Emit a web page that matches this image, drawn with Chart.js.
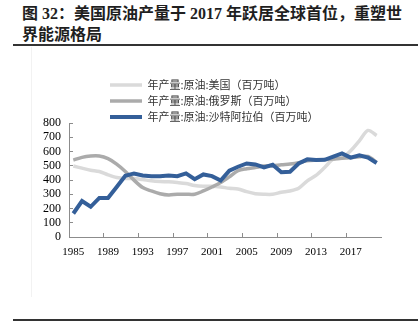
<!DOCTYPE html>
<html>
<head>
<meta charset="utf-8">
<script src="https://cdn.jsdelivr.net/npm/chart.js@4/dist/chart.umd.min.js"></script>
<style>
  body { margin: 0; width: 418px; height: 329px; background: #fff; position: relative; overflow: hidden; }
  .title { position: absolute; left: 22px; top: 3px; width: 392px; font-family: "Liberation Serif", "Noto Sans CJK SC", serif; font-weight: bold; font-size: 16px; line-height: 21px; color: #1f1f1f; }
  .rule { position: absolute; left: 13px; width: 405px; height: 2px; background: #333; }
  .frame { position: absolute; left: 31px; top: 47px; width: 1px; height: 250px; background: #f2f2f2; }
  #wrap { position: absolute; left: 0; top: 50px; width: 418px; height: 217px; }
</style>
</head>
<body>
<div class="title">图 32：美国原油产量于 2017 年跃居全球首位，重塑世界能源格局</div>
<div class="rule" style="top:44px"></div>
<div class="frame"></div>
<div id="wrap"><canvas id="chart" width="418" height="217"></canvas></div>
<div class="rule" style="top:319px"></div>
<script>
// years on the category axis
const years = ["1985", "1986", "1987", "1988", "1989", "1990", "1991", "1992", "1993", "1994",
  "1995", "1996", "1997", "1998", "1999", "2000", "2001", "2002", "2003", "2004",
  "2005", "2006", "2007", "2008", "2009", "2010", "2011", "2012", "2013", "2014",
  "2015", "2016", "2017", "2018", "2019", "2020"];

// crude oil output, million tonnes
const usOutput = [498, 483, 469, 460, 436, 417, 410, 410, 403, 394, 389, 387, 382, 375, 361, 356, 356, 351,
  342, 337, 318, 304, 300, 300, 314, 323, 342, 394, 432, 488, 547, 555, 605, 675, 748, 712];
const russiaOutput = [540, 559, 568, 568, 550, 512, 460, 399, 347, 323, 304, 295, 300, 300, 300, 323, 351, 382,
  422, 465, 479, 488, 498, 500, 507, 512, 521, 535, 540, 543, 548, 553, 556, 563, 565, 524];
const saudiOutput = [165, 252, 212, 274, 274, 351, 429, 446, 432, 427, 427, 432, 427, 446, 406, 439, 427, 396,
  465, 493, 516, 509, 488, 507, 455, 458, 516, 545, 540, 542, 564, 587, 557, 573, 557, 519];

const seriesNames = ["年产量:原油:美国（百万吨）", "年产量:原油:俄罗斯（百万吨）", "年产量:原油:沙特阿拉伯（百万吨）"];

// move the legend block so its rows line up like the original
const legendShift = {
  id: "legendShift",
  afterLayout(chart) {
    chart.legend.left += 36;
    chart.legend.top += 9.5;
  }
};

const axisColor = "#8c8c8c";
const tickFont = { family: "Liberation Serif", size: 12 };

new Chart(document.getElementById("chart").getContext("2d"), {
  type: "line",
  data: {
    labels: years,
    datasets: [
      {
        label: seriesNames[0],
        data: usOutput,
        borderColor: "#dadada",
        backgroundColor: "#dadada",
        borderWidth: 3.5,
        tension: 0.3,
        pointRadius: 0,
        pointStyle: "line",
        order: 2,
      },
      {
        label: seriesNames[1],
        data: russiaOutput,
        borderColor: "#ababab",
        backgroundColor: "#ababab",
        borderWidth: 3.5,
        tension: 0.3,
        pointRadius: 0,
        pointStyle: "line",
        order: 1,
      },
      {
        label: seriesNames[2],
        data: saudiOutput,
        borderColor: "#345f99",
        backgroundColor: "#345f99",
        borderWidth: 4,
        tension: 0,
        pointRadius: 0,
        pointStyle: "line",
        order: 0,
      },
    ],
  },
  options: {
    responsive: false,
    devicePixelRatio: 1,
    animation: false,
    layout: { padding: { top: 15, right: 37, bottom: 0, left: 0 } },
    plugins: {
      tooltip: { enabled: false },
      legend: {
        position: "top",
        align: "start",
        fullSize: false,
        labels: {
          usePointStyle: true,
          pointStyleWidth: 32,
          padding: 5,
          color: "#333",
          font: { family: "Noto Sans CJK SC", size: 11 },
          sort: (a, b) => a.datasetIndex - b.datasetIndex,
        },
      },
    },
    scales: {
      x: {
        offset: true,
        border: { color: axisColor, width: 1 },
        grid: {
          offset: true,
          drawOnChartArea: false,
          tickLength: -4,
          color: (ctx) => (ctx.index % 4 === 0 ? axisColor : "transparent"),
        },
        ticks: {
          autoSkip: false,
          maxRotation: 0,
          padding: 13,
          color: "#000",
          font: { family: "Liberation Serif", size: 11 },
          callback: (val, i) => (i % 4 === 0 ? years[i] : ""),
        },
        afterFit: (s) => { s.height = 30; },
      },
      y: {
        min: 0,
        max: 800,
        border: { color: axisColor, width: 1 },
        grid: { drawOnChartArea: false, tickLength: -4, color: axisColor },
        ticks: { stepSize: 100, autoSkip: false, padding: 12, color: "#000", font: tickFont },
        afterFit: (s) => { s.width = 69; },
      },
    },
  },
  plugins: [legendShift],
});
</script>
</body>
</html>
